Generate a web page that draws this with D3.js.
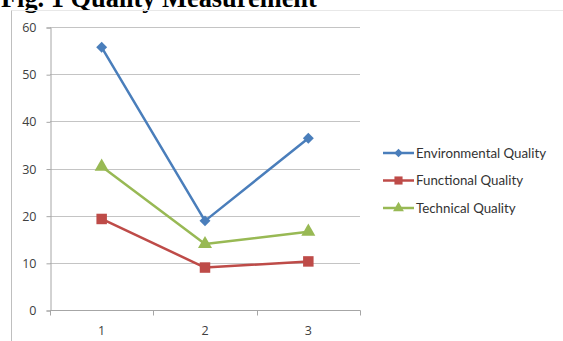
<!DOCTYPE html>
<html>
<head>
<meta charset="utf-8">
<script src="https://cdn.jsdelivr.net/npm/d3@7/dist/d3.min.js"></script>
<style>
  html, body { margin: 0; padding: 0; background: #fff; }
  svg { display: block; }
</style>
</head>
<body>
<svg id="chart" width="563" height="341"></svg>
<script>
// Chart data
const categories = ["1", "2", "3"];
const environmental = [55.7, 18.9, 36.4];
const functional = [19.3, 9.0, 10.3];
const technical = [30.4, 14.0, 16.6];
const yTicks = [0, 10, 20, 30, 40, 50, 60];
const seriesNames = ["Environmental Quality", "Functional Quality", "Technical Quality"];

// Diamond markers are squares turned by 45 degrees
const series = [
  { name: seriesNames[0], values: environmental, color: "#4a7ebb", symbol: d3.symbolSquare, size: 60, rotate: 45 },
  { name: seriesNames[1], values: functional, color: "#be4b48", symbol: d3.symbolSquare, size: 110, rotate: 0 },
  { name: seriesNames[2], values: technical, color: "#98b954", symbol: d3.symbolTriangle, size: 85, rotate: 0 }
];

const svg = d3.select("#chart");

// Title, partly clipped at the top edge
const title = svg.append("text")
  .attr("x", 1).attr("y", 7)
  .attr("font-family", "'Liberation Serif', 'Times New Roman', serif")
  .attr("font-weight", "bold")
  .attr("font-size", 24)
  .attr("fill", "#000")
  .text("Fig. 1 Quality Measurement");
const tw = title.node().getComputedTextLength();
if (tw > 0) title.attr("font-size", 24 * 316 / tw);

// Chart frame
svg.append("line").attr("x1", 11.5).attr("x2", 563).attr("y1", 10.5).attr("y2", 10.5)
  .attr("stroke", "#e8e8e8").attr("stroke-width", 1);
svg.append("line").attr("x1", 11.5).attr("x2", 11.5).attr("y1", 10.5).attr("y2", 341)
  .attr("stroke", "#bfbfbf").attr("stroke-width", 1);

const plot = { left: 50, right: 360, top: 27, bottom: 310 };

const x = d3.scaleBand().domain(categories).range([plot.left, plot.right]);
const y = d3.scaleLinear().domain([0, 60]).range([plot.bottom, plot.top]);

// Horizontal gridlines
svg.append("g").selectAll("line").data(yTicks.filter(t => t > 0)).join("line")
  .attr("x1", plot.left).attr("x2", plot.right)
  .attr("y1", d => Math.round(y(d)) + 0.5).attr("y2", d => Math.round(y(d)) + 0.5)
  .attr("stroke", "#c4c4c4").attr("stroke-width", 1);

// Y axis
const yAxis = svg.append("g")
  .attr("transform", `translate(${plot.left + 0.5},0.5)`)
  .call(d3.axisLeft(y).tickValues(yTicks).tickSize(4).tickPadding(10));
yAxis.select(".domain").attr("stroke", "#a6a6a6");
yAxis.selectAll(".tick line").attr("stroke", "#a6a6a6");
yAxis.selectAll(".tick text")
  .attr("font-family", "'Open Sans', 'DejaVu Sans', sans-serif")
  .attr("font-size", 12.5).attr("fill", "#404040");

// X axis with tick marks on category boundaries
const xAxisG = svg.append("g").attr("transform", `translate(0,${plot.bottom + 0.5})`);
xAxisG.append("line").attr("x1", plot.left).attr("x2", plot.right + 0.5)
  .attr("stroke", "#a6a6a6");
const boundaries = categories.map(c => x(c)).concat([x(categories[categories.length - 1]) + x.bandwidth()]);
xAxisG.selectAll("line.tk").data(boundaries).join("line").attr("class", "tk")
  .attr("x1", d => Math.round(d) + 0.5).attr("x2", d => Math.round(d) + 0.5)
  .attr("y1", 0).attr("y2", 5).attr("stroke", "#a6a6a6");
xAxisG.selectAll("text").data(categories).join("text")
  .attr("x", d => x(d) + x.bandwidth() / 2)
  .attr("y", 24)
  .attr("text-anchor", "middle")
  .attr("font-family", "'Open Sans', 'DejaVu Sans', sans-serif")
  .attr("font-size", 12.5).attr("fill", "#404040")
  .text(d => d);

// Lines and markers
const line = d3.line()
  .x((d, i) => x(categories[i]) + x.bandwidth() / 2)
  .y(d => y(d));

series.forEach(s => {
  svg.append("path").datum(s.values)
    .attr("d", line)
    .attr("fill", "none")
    .attr("stroke", s.color)
    .attr("stroke-width", 2.5)
    .attr("stroke-linejoin", "round");
  svg.append("g").selectAll("path").data(s.values).join("path")
    .attr("transform", (d, i) => `translate(${x(categories[i]) + x.bandwidth() / 2},${y(d)}) rotate(${s.rotate})`)
    .attr("d", d3.symbol().type(s.symbol).size(s.size))
    .attr("fill", s.color);
});

// Legend
const legend = svg.append("g");
series.forEach((s, i) => {
  const ly = 153 + i * 27.5;
  legend.append("line").attr("x1", 383).attr("x2", 414).attr("y1", ly).attr("y2", ly)
    .attr("stroke", s.color).attr("stroke-width", 2.5);
  legend.append("path")
    .attr("transform", `translate(398.5,${ly}) rotate(${s.rotate})`)
    .attr("d", d3.symbol().type(s.symbol).size(s.size * 0.6))
    .attr("fill", s.color);
  legend.append("text")
    .attr("x", 416).attr("y", ly + 4.5)
    .attr("font-family", "Lato, 'Open Sans', sans-serif")
    .attr("font-size", 13.3).attr("fill", "#333")
    .text(s.name);
});
</script>
</body>
</html>
